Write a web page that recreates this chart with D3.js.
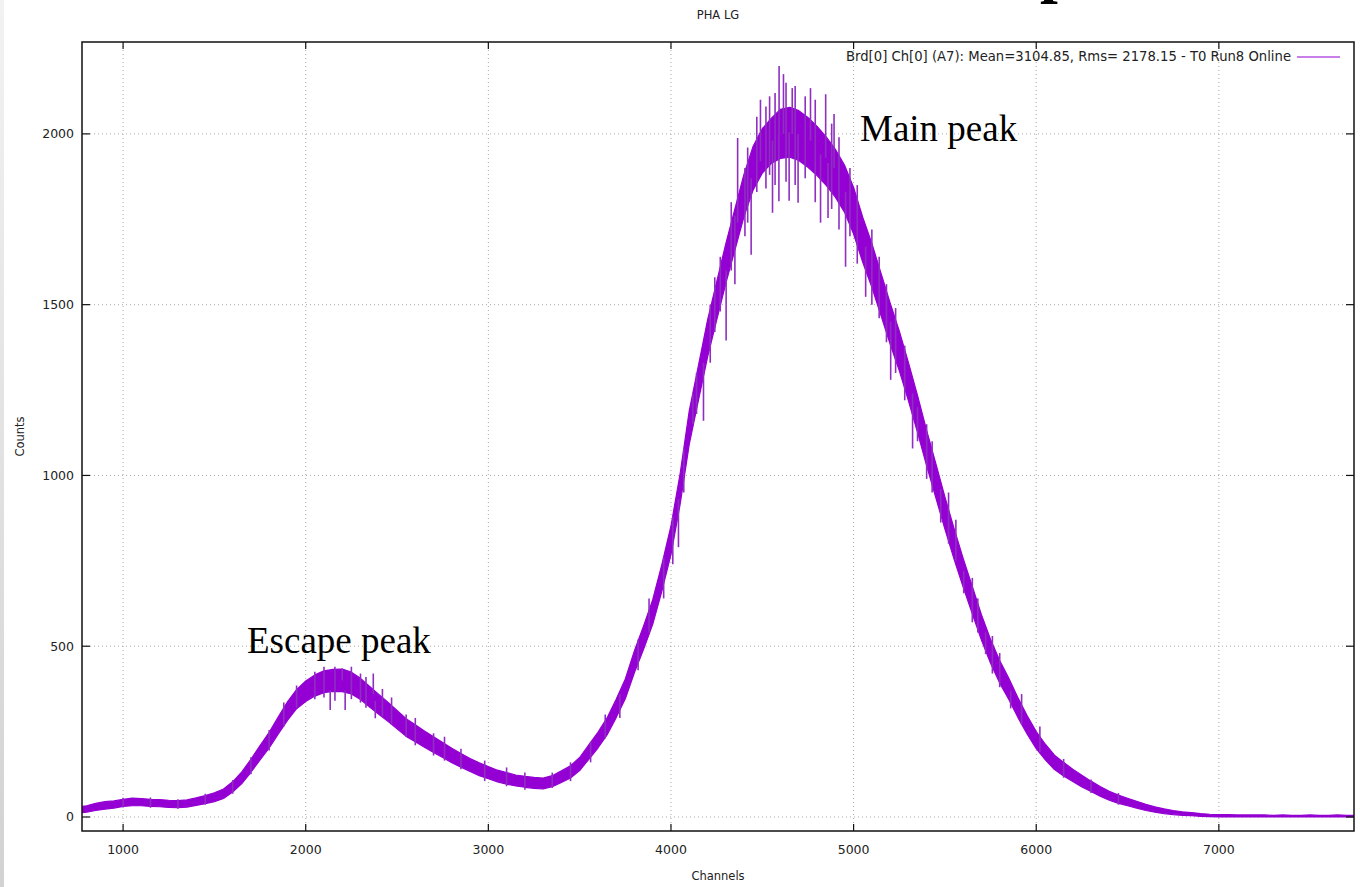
<!DOCTYPE html>
<html>
<head>
<meta charset="utf-8">
<script src="https://cdn.jsdelivr.net/npm/d3@7"></script>
<style>
  body { margin: 0; background: #fff; }
  svg { display: block; }
</style>
</head>
<body>
<script>
// histogram bins (channels) and the band of counts
const channels = d3.range(750, 7751, 50);
const countsLo = [
  12, 14, 19, 23, 26, 31, 33, 33, 31, 30,
  28, 27, 29, 34, 39, 45, 54, 73, 98, 131,
  167, 202, 243, 283, 317, 338, 354, 364, 368, 367,
  360, 344, 322, 301, 280, 258, 236, 220, 204, 189,
  174, 159, 146, 133, 121, 112, 103, 96, 91, 87,
  84, 82, 89, 101, 114, 136, 169, 202, 240, 291,
  346, 423, 491, 564, 661, 768, 915, 1091, 1219, 1346,
  1454, 1562, 1660, 1758, 1836, 1885, 1914, 1928, 1932, 1922,
  1902, 1878, 1849, 1815, 1771, 1707, 1624, 1551, 1468, 1385,
  1307, 1219, 1126, 1028, 935, 843, 755, 673, 595, 518,
  450, 392, 344, 291, 243, 200, 167, 139, 120, 104,
  88, 75, 61, 49, 40, 33, 26, 19, 14, 10,
  7, 5, 4, 2, 1, 0, 0, 0, 0, 0,
  0, 0, 0, 0, 0, 0, 0, 0, 0, 0,
  0
];
const countsHi = [
  30, 33, 40, 45, 47, 52, 55, 54, 52, 51,
  49, 48, 50, 56, 63, 71, 82, 103, 132, 169,
  209, 248, 293, 337, 373, 398, 416, 428, 432, 433,
  424, 406, 382, 359, 336, 312, 288, 270, 252, 235,
  218, 201, 186, 171, 159, 148, 137, 130, 123, 119,
  116, 114, 121, 135, 150, 174, 211, 248, 290, 345,
  404, 487, 559, 636, 739, 852, 1005, 1189, 1321, 1454,
  1566, 1678, 1780, 1882, 1964, 2015, 2046, 2072, 2078, 2068,
  2048, 2022, 1991, 1955, 1909, 1843, 1756, 1679, 1592, 1505,
  1423, 1331, 1234, 1132, 1035, 937, 845, 757, 675, 592,
  520, 458, 406, 349, 297, 250, 213, 181, 160, 140,
  122, 105, 89, 75, 64, 55, 46, 37, 30, 24,
  19, 15, 13, 10, 8, 7, 7, 6, 6, 6,
  6, 5, 6, 5, 5, 6, 5, 5, 6, 5,
  5
];

// single-bin spikes sticking out of the band
const spikeCh = [
  2134, 2216, 2381, 4041, 4178, 4302, 4439, 4556, 4591, 4647, 4696, 4819, 4860, 4956,
  5066, 5203, 5323, 5350, 5477, 5603, 5723, 5860,
  2200, 2370, 4365, 4490, 4592, 4616, 4664, 4764, 4847, 4893,
  3820, 3880, 3960, 4010, 4070, 4120, 4140, 4215, 4240, 4270, 4330, 4350, 4405, 4420,
  4470, 4520, 4540, 4570, 4630, 4680, 4735, 4790, 4880, 4920, 4980, 5020, 5100, 5140,
  5180, 5230, 5280, 5400, 5430, 5520, 5560, 5650, 5680, 5760, 5800, 5920, 6020, 6150,
  6300, 6450,
  1950, 2050, 2100, 2160, 2250, 2300, 2330, 2420, 2470, 2550, 2600, 2700, 2760, 2850,
  2980, 3100, 3200, 3350, 3450, 3560, 3640, 3720,
  1000, 1150, 1300, 1450, 1600, 1700, 1800, 1880
];
const spikeLo = [
  313, 313, 289, 790, 1160, 1395, 1646, 1769, 1803, 1804, 1798, 1740, 1754, 1611,
  1523, 1280, 1079, 1100, 862, 655, 477, 318,
  400, 360, 1740, 1920, 2000, 2000, 2000, 1980, 1930, 1900,
  430, 540, 640, 740, 950, 1150, 1180, 1330, 1420, 1480, 1600, 1560, 1700, 1740,
  1830, 1840, 1880, 1850, 1860, 1850, 1870, 1800, 1780, 1720, 1700, 1620, 1500, 1460,
  1390, 1300, 1220, 990, 950, 800, 750, 570, 540, 420, 380, 270, 190, 115,
  70, 36,
  320, 345, 350, 340, 345, 335, 320, 295, 270, 235, 210, 180, 165, 140,
  105, 90, 80, 85, 105, 160, 230, 290,
  28, 27, 24, 36, 68, 125, 195, 265
];
const spikeHi = [
  370, 370, 340, 930, 1330, 1600, 1870, 1980, 2000, 2005, 2000, 1940, 1915, 1830,
  1670, 1450, 1240, 1200, 960, 720, 540, 370,
  435, 420, 1988, 2100, 2199, 2175, 2134, 2134, 2116, 2058,
  520, 640, 760, 880, 1080, 1240, 1300, 1500, 1580, 1640, 1800, 1760, 1900, 1960,
  2050, 2080, 2110, 2120, 2150, 2140, 2110, 2100, 2030, 1990, 1900, 1850, 1720, 1640,
  1560, 1490, 1380, 1150, 1100, 950, 870, 700, 640, 530, 480, 360, 265, 170,
  110, 70,
  385, 425, 440, 440, 440, 420, 410, 375, 350, 300, 290, 245, 235, 200,
  165, 145, 130, 130, 160, 220, 300, 360,
  56, 57, 52, 68, 108, 175, 255, 335
];

const xTicks = [1000, 2000, 3000, 4000, 5000, 6000, 7000];
const yTicks = [0, 500, 1000, 1500, 2000];

const titleText = "PHA LG";
const legendLabel = "Brd[0] Ch[0] (A7): Mean=3104.85, Rms= 2178.15 - T0 Run8 Online";

const width = 1360, height = 887;
const margin = {left: 82, right: 6, top: 42, bottom: 56};
const pw = width - margin.left - margin.right;
const ph = height - margin.top - margin.bottom;
const lineColor = "#9400d3";
const uiFont = "'DejaVu Sans', Verdana, sans-serif";
const serif = "'Liberation Serif', 'Times New Roman', serif";

let x = d3.scaleLinear().domain([775, 7740]).range([0, pw]);
let y = d3.scaleLinear().domain([-41, 2269]).range([ph, 0]);

let svg = d3.select("body").append("svg")
    .attr("width", width)
    .attr("height", height);

// grey strip on the left edge of the screenshot
let defs = svg.append("defs");
let grad = defs.append("linearGradient")
    .attr("id", "strip")
    .attr("x1", 0).attr("y1", 0).attr("x2", 0).attr("y2", 1);
grad.append("stop").attr("offset", "0%").attr("stop-color", "#f2f2f2");
grad.append("stop").attr("offset", "100%").attr("stop-color", "#d2d2d2");
svg.append("rect")
    .attr("x", 0).attr("y", 0)
    .attr("width", 4).attr("height", height)
    .attr("fill", "url(#strip)");

defs.append("clipPath").attr("id", "plotclip")
  .append("rect").attr("width", pw).attr("height", ph);

let g = svg.append("g")
    .attr("transform", "translate(" + margin.left + "," + margin.top + ")");

// dotted grid
g.selectAll(".gx").data(xTicks).enter().append("line")
    .attr("x1", d => x(d)).attr("x2", d => x(d))
    .attr("y1", 0).attr("y2", ph)
    .attr("stroke", "#a8a8a8")
    .attr("stroke-width", 1)
    .attr("stroke-dasharray", "1,3");
g.selectAll(".gy").data(yTicks).enter().append("line")
    .attr("x1", 0).attr("x2", pw)
    .attr("y1", d => y(d)).attr("y2", d => y(d))
    .attr("stroke", "#a8a8a8")
    .attr("stroke-width", 1)
    .attr("stroke-dasharray", "1,3");

// the spectrum band
let band = d3.area()
    .x((d, i) => x(channels[i]))
    .y0((d, i) => y(countsLo[i]))
    .y1((d, i) => y(countsHi[i]));

let plot = g.append("g").attr("clip-path", "url(#plotclip)");
plot.append("path")
    .datum(channels)
    .attr("d", band)
    .attr("fill", lineColor)
    .attr("stroke", lineColor)
    .attr("stroke-width", 1.2)
    .attr("stroke-linejoin", "round");

plot.selectAll(".spike").data(spikeCh).enter().append("line")
    .attr("x1", d => x(d)).attr("x2", d => x(d))
    .attr("y1", (d, i) => y(spikeLo[i]))
    .attr("y2", (d, i) => y(spikeHi[i]))
    .attr("stroke", "#8f2fc0")
    .attr("stroke-width", 1.6);

// frame
g.append("rect")
    .attr("width", pw).attr("height", ph)
    .attr("fill", "none")
    .attr("stroke", "#111")
    .attr("stroke-width", 1.5);

// inward ticks, mirrored on the opposite sides
g.selectAll(".tb").data(xTicks).enter().append("line")
    .attr("x1", d => x(d)).attr("x2", d => x(d))
    .attr("y1", ph).attr("y2", ph - 7)
    .attr("stroke", "#111").attr("stroke-width", 1.2);
g.selectAll(".tt").data(xTicks).enter().append("line")
    .attr("x1", d => x(d)).attr("x2", d => x(d))
    .attr("y1", 0).attr("y2", 7)
    .attr("stroke", "#111").attr("stroke-width", 1.2);
g.selectAll(".tl").data(yTicks).enter().append("line")
    .attr("x1", 0).attr("x2", 8)
    .attr("y1", d => y(d)).attr("y2", d => y(d))
    .attr("stroke", "#111").attr("stroke-width", 1.2);
g.selectAll(".tr").data(yTicks).enter().append("line")
    .attr("x1", pw).attr("x2", pw - 8)
    .attr("y1", d => y(d)).attr("y2", d => y(d))
    .attr("stroke", "#111").attr("stroke-width", 1.2);

// tick labels
g.selectAll(".xl").data(xTicks).enter().append("text")
    .attr("x", d => x(d))
    .attr("y", ph + 23)
    .attr("text-anchor", "middle")
    .attr("font-family", uiFont)
    .attr("font-size", 12.5)
    .attr("fill", "#222")
    .text(d => d);
g.selectAll(".yl").data(yTicks).enter().append("text")
    .attr("x", -8)
    .attr("y", d => y(d) + 4.5)
    .attr("text-anchor", "end")
    .attr("font-family", uiFont)
    .attr("font-size", 12.5)
    .attr("fill", "#222")
    .text(d => d);

// axis titles and plot title
svg.append("text")
    .attr("x", margin.left + pw / 2)
    .attr("y", 880)
    .attr("text-anchor", "middle")
    .attr("font-family", uiFont)
    .attr("font-size", 11.5)
    .attr("fill", "#222")
    .text("Channels");
svg.append("text")
    .attr("transform", "translate(24," + (margin.top + ph / 2) + ") rotate(-90)")
    .attr("text-anchor", "middle")
    .attr("font-family", uiFont)
    .attr("font-size", 11.5)
    .attr("fill", "#222")
    .text("Counts");
svg.append("text")
    .attr("x", margin.left + pw / 2)
    .attr("y", 19)
    .attr("text-anchor", "middle")
    .attr("font-family", uiFont)
    .attr("font-size", 11.5)
    .attr("fill", "#222")
    .text(titleText);

// legend
svg.append("text")
    .attr("x", 1291)
    .attr("y", 61)
    .attr("text-anchor", "end")
    .attr("font-family", uiFont)
    .attr("font-size", 13.2)
    .attr("fill", "#222")
    .text(legendLabel);
svg.append("line")
    .attr("x1", 1297).attr("x2", 1340)
    .attr("y1", 57).attr("y2", 57)
    .attr("stroke", lineColor)
    .attr("stroke-width", 1.2);

// annotations pasted on the slide
svg.append("text")
    .attr("x", 247).attr("y", 653)
    .attr("font-family", serif)
    .attr("font-size", 37)
    .attr("fill", "#000")
    .text("Escape peak");
svg.append("text")
    .attr("x", 860).attr("y", 141)
    .attr("font-family", serif)
    .attr("font-size", 37)
    .attr("fill", "#000")
    .text("Main peak");

// descender of a large heading cut off at the top of the screenshot
svg.append("text")
    .attr("x", 1040).attr("y", -10)
    .attr("font-family", serif)
    .attr("font-size", 64)
    .attr("font-weight", "bold")
    .attr("fill", "#000")
    .text("p");
</script>
</body>
</html>
